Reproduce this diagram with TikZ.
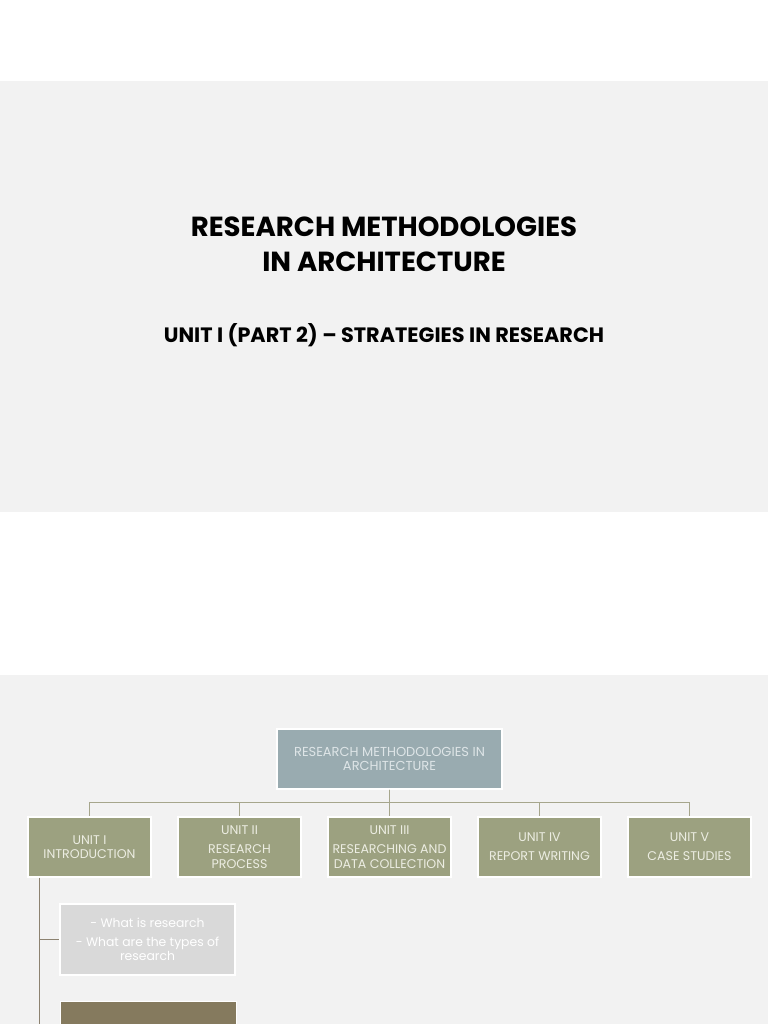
\documentclass[tikz,border=0pt]{standalone}
\usepackage{fontspec}
\setmainfont{Poppins}
\usetikzlibrary{positioning}

\definecolor{slidegray}{RGB}{242,242,242}
\definecolor{rootblue}{RGB}{153,171,176}
\definecolor{roottext}{RGB}{222,229,231}
\definecolor{unitolive}{RGB}{156,161,128}
\definecolor{unittext}{RGB}{236,237,226}
\definecolor{topicgray}{RGB}{217,217,217}
\definecolor{nextbrown}{RGB}{133,122,94}
\definecolor{busline}{RGB}{166,166,140}
\definecolor{spineline}{RGB}{140,130,112}

\tikzset{
  unitbox/.style={draw=white, line width=1.2pt, fill=unitolive, text=unittext,
    minimum width=123pt, minimum height=60pt, inner sep=0pt, align=center,
    font=\fontsize{12.6}{14.5}\selectfont},
  rootbox/.style={unitbox, fill=rootblue, text=roottext, minimum width=225pt,
    font=\fontsize{13}{14}\selectfont},
  topicbox/.style={unitbox, fill=topicgray, text=white, minimum width=175pt,
    minimum height=71pt, font=\fontsize{12.4}{14}\selectfont},
  nextbox/.style={draw=white, line width=1.2pt, fill=nextbrown, anchor=north west,
    minimum width=176pt, minimum height=40pt},
  link/.style={draw=busline, line width=1pt},
  spine/.style={draw=spineline, line width=1.3pt}
}

\begin{document}
\begin{tikzpicture}[x=1pt, y=-1pt, node distance=25.8pt]
\useasboundingbox (0,0) rectangle (768,1024);
\clip (0,0) rectangle (768,1024);
\fill[white] (0,0) rectangle (768,1024);
% slides
\fill[slidegray] (0,81) rectangle (768,512);
\fill[slidegray] (0,675) rectangle (768,1024);

\node (title) [align=center, font=\fontsize{27.6}{35}\selectfont\bfseries] at (384,244)
  {RESEARCH METHODOLOGIES\\IN ARCHITECTURE};
\node (subtitle) [font=\fontsize{20.8}{24}\selectfont\bfseries] at (384,335)
  {UNIT I (PART 2) – STRATEGIES IN RESEARCH};

% chart
\node (root) [rootbox] at (389.5,759) {RESEARCH METHODOLOGIES IN\\ARCHITECTURE};
\node (u1) [unitbox] at (89.5,847) {UNIT I\\INTRODUCTION};
\node (u2) [unitbox, right=of u1] {UNIT II\\[4.5pt]RESEARCH\\PROCESS};
\node (u3) [unitbox, right=of u2] {UNIT III\\[4.5pt]RESEARCHING AND\\DATA COLLECTION};
\node (u4) [unitbox, right=of u3] {UNIT IV\\[4.5pt]REPORT WRITING};
\node (u5) [unitbox, right=of u4] {UNIT V\\[4.5pt]CASE STUDIES};
\foreach \u in {u1,u2,u3,u4,u5}
  \draw [link] (root.south) -- ++(0,13) -| (\u.north);

\node (topics) [topicbox] at (147.5,939.5)
  {- What is research\\[5pt]- What are the types of\\research};
\node (next) [nextbox] at (60,1001) {};
\coordinate (spine) at ([xshift=12pt]u1.south west);
\draw [spine] (spine) -- (spine |- next.south);
\draw [spine] (spine |- topics.west) -- (topics.west);
\end{tikzpicture}
\end{document}
